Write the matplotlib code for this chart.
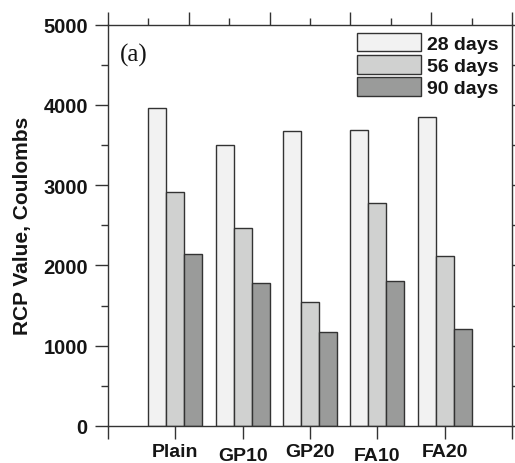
import matplotlib
matplotlib.use("Agg")
import matplotlib.pyplot as plt
from matplotlib.ticker import MultipleLocator, FixedLocator
import numpy as np

categories = ["Plain", "GP10", "GP20", "FA10", "FA20"]
series_names = ["28 days", "56 days", "90 days"]
d28 = [3962, 3505, 3671, 3692, 3854]
d56 = [2919, 2471, 1541, 2774, 2118]
d90 = [2143, 1786, 1167, 1806, 1208]
y_ticks = [0, 1000, 2000, 3000, 4000, 5000]

colors = ["#f2f2f2", "#d0d1d0", "#9a9b9a"]
edge = "#333333"
txt = "#151515"

plt.rcParams["font.family"] = ["Liberation Sans", "DejaVu Sans"]

fig = plt.figure(figsize=(5.15, 4.64), dpi=100)
ax = fig.add_axes([108/515, 1-427/464, (512-108)/515, (427-25.7)/464])

x = np.arange(1, len(categories)+1)
w = 0.8/3
for i, (vals, name) in enumerate(zip([d28, d56, d90], series_names)):
    ax.bar(x + (i-1)*w, vals, width=w, color=colors[i], edgecolor=edge,
           linewidth=1.0, label=name, zorder=2)

ax.set_xlim(0, 6)
ax.set_ylim(0, 5000)
ax.xaxis.set_major_locator(FixedLocator(list(range(0, 7))))
ax.set_xticklabels([""] + categories + [""])
ax.yaxis.set_major_locator(FixedLocator(y_ticks))
ax.yaxis.set_minor_locator(MultipleLocator(500))
ax.set_yticklabels([str(v) for v in y_ticks])

for s in ax.spines.values():
    s.set_color(edge)
    s.set_linewidth(1.0)

ax.tick_params(axis="both", which="major", direction="out", length=9.5,
               width=1.0, color=edge, labelcolor=txt)
ax.tick_params(axis="y", which="major", pad=5, labelsize=14.5)
ax.tick_params(axis="x", which="major", pad=2.5, labelsize=14)
ax.tick_params(axis="y", which="minor", direction="out", length=5, width=1.0, color=edge)
for lab in ax.get_xticklabels() + ax.get_yticklabels():
    lab.set_fontweight("bold")

for k, t in enumerate(ax.xaxis.get_major_ticks()):
    if k in (2, 4):
        t._apply_params(pad=5.5)

ax.set_ylabel("RCP Value, Coulombs", fontsize=15, fontweight="bold", color=txt, labelpad=8)

# top axis ticks
axt = ax.twiny()
axt.set_xlim(0, 10)
axt.xaxis.set_major_locator(MultipleLocator(2))
axt.xaxis.set_minor_locator(MultipleLocator(1))
axt.tick_params(axis="x", which="major", direction="out", length=9.5, width=1.0,
                color=edge, labeltop=False)
axt.tick_params(axis="x", which="minor", direction="out", length=5, width=1.0, color=edge)
for s in axt.spines.values():
    s.set_visible(False)

# right axis ticks
axr = ax.twinx()
axr.set_ylim(0, 5000)
axr.yaxis.set_major_locator(FixedLocator(y_ticks))
axr.yaxis.set_minor_locator(MultipleLocator(500))
axr.tick_params(axis="y", which="both", direction="out", length=9.5, width=1.0,
                color=edge, labelright=False)
for s in axr.spines.values():
    s.set_visible(False)

ax.text(0.03, 0.955, "(a)", transform=ax.transAxes, fontsize=18,
        family=["Liberation Serif", "DejaVu Serif"], color=txt, va="top", ha="left")

leg = ax.legend(loc="upper left", bbox_to_anchor=(357/515, 1-34/464),
                bbox_transform=fig.transFigure, frameon=False,
                prop={"weight": "bold", "size": 14}, handlelength=3.3,
                handleheight=1.08, labelspacing=0.12, handletextpad=0.3,
                borderpad=0, borderaxespad=0)
for t in leg.get_texts():
    t.set_color(txt)

fig.savefig("out.png", dpi=100)
